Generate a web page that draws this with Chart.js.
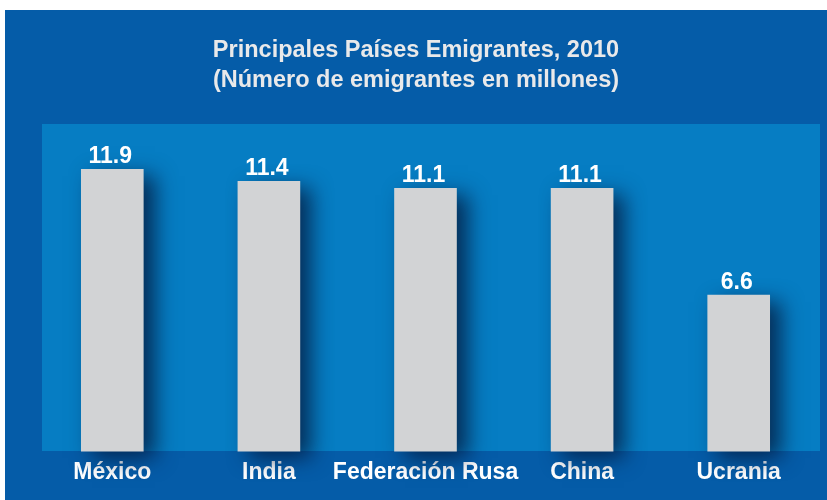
<!DOCTYPE html>
<html>
<head>
<meta charset="utf-8">
<script src="https://cdn.jsdelivr.net/npm/chart.js@4"></script>
<style>
  html, body { margin: 0; padding: 0; background: #ffffff; }
  #wrap { width: 827px; height: 500px; }
</style>
</head>
<body>
<div id="wrap"><canvas id="grafico" width="827" height="500"></canvas></div>
<script>
// Datos del gráfico
const paises = ["México", "India", "Federación Rusa", "China", "Ucrania"];
const emigrantes = [11.9, 11.4, 11.1, 11.1, 6.6];
const etiquetas = ["11.9", "11.4", "11.1", "11.1", "6.6"];
const titulo = ["Principales Países Emigrantes, 2010", "(Número de emigrantes en millones)"];

const fuente = "'Liberation Sans', Arial, Helvetica, sans-serif";

// fondo azul oscuro + recuadro azul claro + título
const fondo = {
    id: "fondo",
    beforeDraw(chart) {
        const c = chart.ctx;
        c.save();
        c.fillStyle = "#055ca8";
        c.fillRect(5, 10, 822, 490);
        c.fillStyle = "#067dc3";
        c.fillRect(42, 124, 778, 327);
        c.fillStyle = "#e9e9ea";
        c.font = "bold 23.5px " + fuente;
        c.textAlign = "center";
        c.textBaseline = "middle";
        c.fillText(titulo[0], 416, 51);
        c.fillText(titulo[1], 416, 81);
        c.restore();
    }
};

// sombra de las barras
const sombra = {
    id: "sombra",
    beforeDatasetsDraw(chart) {
        const c = chart.ctx;
        c.save();
        c.shadowColor = "rgba(5, 25, 60, 0.8)";
        c.shadowBlur = 20;
        c.shadowOffsetX = 11;
        c.shadowOffsetY = 7;
    },
    afterDatasetsDraw(chart) {
        chart.ctx.restore();
    }
};

// valores encima de cada barra
const valores = {
    id: "valores",
    afterDatasetsDraw(chart) {
        const c = chart.ctx;
        const meta = chart.getDatasetMeta(0);
        c.save();
        c.fillStyle = "#ffffff";
        c.font = "bold 23px " + fuente;
        c.textAlign = "center";
        c.textBaseline = "alphabetic";
        meta.data.forEach((barra, i) => {
            c.fillText(etiquetas[i], barra.x - 2, barra.y - 6);
        });
        c.restore();
    }
};

new Chart(document.getElementById("grafico"), {
    type: "bar",
    data: {
        labels: paises,
        datasets: [{
            data: emigrantes,
            backgroundColor: "#d2d3d5",
            borderWidth: 0,
            barPercentage: 0.4,
            categoryPercentage: 1,
            clip: false
        }]
    },
    options: {
        responsive: false,
        animation: false,
        layout: { padding: { top: 124, left: 34, right: 10, bottom: 0 } },
        plugins: {
            legend: { display: false },
            tooltip: { enabled: false },
            title: { display: false }
        },
        scales: {
            x: {
                grid: { display: false, drawTicks: false },
                border: { display: false },
                afterFit(scale) { scale.height = 58; },
                ticks: {
                    color: "#ffffff",
                    font: { family: fuente, size: 23, weight: "bold" },
                    padding: 17,
                    maxRotation: 0,
                    autoSkip: false
                }
            },
            y: {
                display: false,
                min: 0.4,
                max: 13.8
            }
        }
    },
    plugins: [fondo, sombra, valores]
});
</script>
</body>
</html>
